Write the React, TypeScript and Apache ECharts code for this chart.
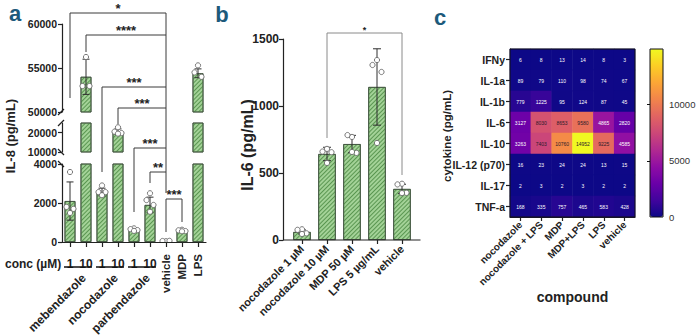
import React, { useEffect, useRef } from "react";
import * as echarts from "echarts";

const FONT = "'Liberation Sans', Arial, Helvetica, sans-serif";
const INK = "#222222";
const PANEL_COLOR = "#1d5a7b";

// ---------- Panel a : IL-8 ----------
const aCategories = [
  "mebendazole 1", "mebendazole 10", "nocodazole 1", "nocodazole 10",
  "parbendazole 1", "parbendazole 10", "vehicle", "MDP", "LPS",
];
const aConcLabels = ["1", "10", "1", "10", "1", "10", "", "", ""];
const aControlLabels = ["", "", "", "", "", "", "vehicle", "MDP", "LPS"];
const aGroups = ["mebendazole", "nocodazole", "parbendazole"];
const aMeans = [2100, 54000, 2560, 20500, 615, 1900, 50, 560, 54400];
const aSD = [980, 2000, 200, 1450, 60, 400, 10, 40, 500];
const aPoints = [
  [3590, 1800, 1700, 1490],
  [56250, 52950, 52950],
  [2900, 2560, 2560, 2400],
  [22800, 20500, 19800, 19500],
  [700, 660, 610, 570],
  [2500, 2150, 1900, 1550],
  [40, 50, 60],
  [630, 600, 560, 550],
  [55300, 54500, 54000],
];
const aSegments: [number, number][] = [[50000, 60000], [10000, 25000], [0, 4000]];
const aSegmentTicks = [[50000, 55000, 60000], [10000, 20000], [0, 2000, 4000]];
const aSigPairs = [[0, 6], [1, 6], [2, 6], [3, 6], [4, 6], [5, 6], [6, 7]];
const aSigLabels = ["*", "****", "***", "***", "***", "**", "***"];

// ---------- Panel b : IL-6 ----------
const bCategories = ["nocodazole 1 µM", "nocodazole 10 µM", "MDP 50 µM", "LPS 5 µg/mL", "vehicle"];
const bMeans = [60, 642, 716, 1142, 381];
const bSD = [15, 50, 65, 285, 35];
const bPoints = [
  [80, 76, 50, 45],
  [680, 660, 655, 575],
  [769, 783, 650, 657],
  [1343, 1306, 1254, 724],
  [420, 415, 352, 350],
];
const bSigPair = [1, 4];
const bSigLabel = "*";

// ---------- Panel c : heatmap ----------
const cCompounds = ["nocodazole", "nocodazole + LPS", "MDP", "MDP+LPS", "LPS", "vehicle"];
const cCytokines = ["IFNy", "IL-1a", "IL-1b", "IL-6", "IL-10", "IL-12 (p70)", "IL-17", "TNF-a"];
const cValues = [
  [6, 8, 13, 14, 8, 3],
  [89, 79, 110, 98, 74, 67],
  [779, 1225, 95, 124, 87, 45],
  [3127, 8030, 8653, 9580, 4865, 2820],
  [3263, 7403, 10760, 14952, 9225, 4585],
  [16, 23, 24, 24, 13, 15],
  [2, 3, 2, 3, 2, 2],
  [168, 335, 757, 465, 583, 428],
];
const cScaleMax = 14952;
const cColorbarTicks = [0, 5000, 10000];
const PLASMA = [
  "#0d0887", "#41049d", "#6a00a8", "#8f0da4", "#b12a90", "#cc4778",
  "#e16462", "#f2844b", "#fca636", "#fcce25", "#f0f921",
];

// ---------- layout ----------
const gridsA = [
  { left: 62, top: 24, width: 144, height: 88 },
  { left: 62, top: 123, width: 144, height: 29 },
  { left: 62, top: 164, width: 144, height: 78 },
];
const gridB = { left: 289.5, top: 39, width: 125, height: 201 };
const gridC = { left: 510, top: 49, width: 125, height: 168 };
const gridBar = { left: 650, top: 49, width: 13, height: 168 };

const BAR_FILL = "#a3d297";
const BAR_HATCH = "#5a9651";
const BAR_BORDER = "#3f523d";

const barItemStyle = {
  color: BAR_FILL,
  borderColor: BAR_BORDER,
  borderWidth: 0.8,
  decal: {
    symbol: "rect",
    symbolSize: 1,
    color: BAR_HATCH,
    dashArrayX: [1, 0],
    dashArrayY: [1, 2],
    rotation: -Math.PI / 4,
  },
};

const lineStyle = { color: INK, width: 1.2 };
const plain = (v: number) => String(v);

function errorRender(hw: number) {
  return (params: any, api: any) => {
    const x = api.value(0);
    const m = api.value(1);
    const s = api.value(2);
    const top = api.coord([x, m + s]);
    const bot = api.coord([x, m - s]);
    const st = { stroke: "#2e2e2e", lineWidth: 1 };
    return {
      type: "group",
      children: [
        { type: "line", shape: { x1: top[0], y1: top[1], x2: bot[0], y2: bot[1] }, style: st },
        { type: "line", shape: { x1: top[0] - hw, y1: top[1], x2: top[0] + hw, y2: top[1] }, style: st },
        { type: "line", shape: { x1: bot[0] - hw, y1: bot[1], x2: bot[0] + hw, y2: bot[1] }, style: st },
      ],
    };
  };
}

function pointRender(w: number) {
  const pattern = [0, -1, 1, 0, -1, 1];
  return (params: any, api: any) => {
    const c = api.coord([api.value(0), api.value(1)]);
    const dx = pattern[api.value(2) % 6] * w;
    return {
      type: "circle",
      shape: { cx: c[0] + dx, cy: c[1], r: 2.6 },
      style: { fill: "#ffffff", stroke: "#6a6a6a", lineWidth: 0.9 },
    };
  };
}

function buildOption(): any {
  const grid: any[] = [...gridsA, gridB, gridC, gridBar].map((g) => ({ ...g, outerBoundsMode: "none", containLabel: false }));
  const xAxis: any[] = [];
  const yAxis: any[] = [];
  const series: any[] = [];

  // panel a x axes
  xAxis.push({ gridIndex: 0, type: "category", data: aCategories, show: false });
  xAxis.push({ gridIndex: 1, type: "category", data: aCategories, show: false });
  xAxis.push({
    gridIndex: 2, type: "category", data: aCategories, position: "bottom",
    axisLine: { show: true, lineStyle },
    axisTick: { show: true, alignWithLabel: true, length: 5, lineStyle },
    axisLabel: {
      interval: 0, formatter: (_v: string, i: number) => aConcLabels[i],
      fontFamily: FONT, fontWeight: "bold", fontSize: 12, color: INK, margin: 16,
    },
  });
  xAxis.push({
    gridIndex: 2, type: "category", data: aCategories, position: "bottom",
    axisLine: { show: false }, axisTick: { show: false },
    axisLabel: {
      interval: 0, rotate: 90, formatter: (_v: string, i: number) => aControlLabels[i],
      fontFamily: FONT, fontWeight: "bold", fontSize: 11.5, color: INK, margin: 12,
    },
  });
  // panel b x axis
  xAxis.push({
    gridIndex: 3, type: "category", data: bCategories,
    axisLine: { show: false },
    axisTick: { show: true, alignWithLabel: true, length: 4, lineStyle },
    axisLabel: { interval: 0, rotate: 45, fontFamily: FONT, fontWeight: "bold", fontSize: 11, color: INK, margin: 7 },
  });
  // panel c x axis
  xAxis.push({
    gridIndex: 4, type: "category", data: cCompounds,
    axisLine: { show: true, lineStyle },
    axisTick: { show: true, alignWithLabel: true, length: 4, lineStyle },
    axisLabel: { interval: 0, rotate: 45, fontFamily: FONT, fontWeight: "bold", fontSize: 10, color: INK, margin: 6 },
    splitLine: { show: false }, splitArea: { show: false },
  });
  xAxis.push({ gridIndex: 5, type: "value", min: 0, max: 1, show: false });

  // panel a y axes (broken)
  aSegments.forEach(([lo, hi], g) => {
    yAxis.push({
      gridIndex: g, type: "value", min: lo, max: hi,
      axisLine: { show: true, lineStyle },
      axisTick: { show: true, length: 4, lineStyle, customValues: aSegmentTicks[g] },
      axisLabel: {
        customValues: aSegmentTicks[g], formatter: plain, fontFamily: FONT, fontWeight: "bold",
        fontSize: 10.5, color: INK, margin: 5,
      },
      splitLine: { show: false },
    });
  });
  // panel b
  yAxis.push({
    gridIndex: 3, type: "value", min: 0, max: 1500, interval: 500, offset: 6.5,
    axisLine: { show: true, lineStyle },
    axisTick: { show: true, length: 4, lineStyle },
    axisLabel: { formatter: plain, fontFamily: FONT, fontWeight: "bold", fontSize: 12, color: INK, margin: 4 },
    splitLine: { show: false },
  });
  // panel c
  yAxis.push({
    gridIndex: 4, type: "category", data: cCytokines, inverse: true,
    axisLine: { show: true, lineStyle },
    axisTick: { show: true, alignWithLabel: true, length: 4, lineStyle },
    axisLabel: { fontFamily: FONT, fontWeight: "bold", fontSize: 10.5, color: INK, margin: 5 },
    splitLine: { show: false }, splitArea: { show: false },
  });
  // colorbar axes
  yAxis.push({
    gridIndex: 5, type: "value", min: 0, max: cScaleMax, position: "right",
    axisLine: { show: false },
    axisTick: { show: true, inside: true, length: 3, lineStyle: { color: "#111", width: 1 }, customValues: [5000, 10000] },
    axisLabel: { customValues: cColorbarTicks, formatter: plain, fontFamily: FONT, fontSize: 9.5, color: "#333", margin: 6 },
    splitLine: { show: false },
  });
  yAxis.push({
    gridIndex: 5, type: "value", min: 0, max: cScaleMax, position: "left",
    axisLine: { show: false },
    axisTick: { show: true, inside: true, length: 3, lineStyle: { color: "#111", width: 1 }, customValues: [5000, 10000] },
    axisLabel: { show: false },
    splitLine: { show: false },
  });

  // panel a series per segment
  aSegments.forEach(([lo, hi], g) => {
    series.push({
      type: "bar", xAxisIndex: g, yAxisIndex: g, data: aMeans, barWidth: "68%",
      itemStyle: barItemStyle, silent: true, clip: true, z: 2,
    });
    series.push({
      type: "custom", xAxisIndex: g, yAxisIndex: g, silent: true, clip: true, z: 3,
      renderItem: errorRender(3.5), encode: { x: 0, y: 1 },
      data: aMeans.map((m, i) => [i, m, aSD[i]]).filter((d) => d[1] >= lo && d[1] <= hi),
    });
    series.push({
      type: "custom", xAxisIndex: g, yAxisIndex: g, silent: true, clip: true, z: 4,
      renderItem: pointRender(3.5), encode: { x: 0, y: 1 },
      data: aPoints.flatMap((arr, i) => arr.map((v, j) => [i, v, j])).filter((d) => d[1] >= lo && d[1] <= hi),
    });
  });

  // panel b series
  series.push({
    type: "bar", xAxisIndex: 4, yAxisIndex: 3, data: bMeans, barWidth: "70%",
    itemStyle: barItemStyle, silent: true, z: 2,
  });
  series.push({
    type: "custom", xAxisIndex: 4, yAxisIndex: 3, silent: true, z: 3,
    renderItem: errorRender(4), encode: { x: 0, y: 1 },
    data: bMeans.map((m, i) => [i, m, bSD[i]]),
  });
  series.push({
    type: "custom", xAxisIndex: 4, yAxisIndex: 3, silent: true, z: 4,
    renderItem: pointRender(4.5), encode: { x: 0, y: 1 },
    data: bPoints.flatMap((arr, i) => arr.map((v, j) => [i, v, j])),
  });

  // panel c heatmap
  const heatIndex = series.length;
  const heatData: any[] = [];
  cValues.forEach((row, r) =>
    row.forEach((v, c) => {
      heatData.push({ value: [c, r, v], label: { color: v > 6000 ? "#2a1a2a" : "#ffffff" } });
    })
  );
  series.push({
    type: "heatmap", xAxisIndex: 5, yAxisIndex: 4, data: heatData, silent: true,
    label: { show: true, fontSize: 5, fontFamily: FONT },
    emphasis: { disabled: true },
  });

  return {
    animation: false,
    backgroundColor: "#ffffff",
    textStyle: { fontFamily: FONT },
    grid, xAxis, yAxis, series,
    visualMap: {
      type: "continuous", min: 0, max: cScaleMax, seriesIndex: heatIndex, dimension: 2,
      inRange: { color: PLASMA }, calculable: false, orient: "vertical",
      left: gridBar.left, top: gridBar.top, itemWidth: gridBar.width, itemHeight: gridBar.height,
      padding: 0, text: null, showLabel: false, hoverLink: false,
    },
  };
}

function buildGraphic(chart: any): any[] {
  const els: any[] = [];
  const text = (t: string, x: number, y: number, font: string, o: any = {}) => ({
    type: "text", x, y, rotation: o.rot || 0, silent: true, z: 50,
    style: { text: t, fill: o.fill || INK, font, align: o.align || "center", verticalAlign: o.va || "middle" },
  });
  const line = (x1: number, y1: number, x2: number, y2: number, stroke = "#3a3a3a", lw = 1) => ({
    type: "line", silent: true, z: 50, shape: { x1, y1, x2, y2 }, style: { stroke, lineWidth: lw },
  });
  const bold = (s: number) => `bold ${s}px ${FONT}`;

  // panel letters
  els.push(text("a", 15, 13, bold(22), { fill: PANEL_COLOR }));
  els.push(text("b", 222, 14, bold(22), { fill: PANEL_COLOR }));
  els.push(text("c", 440, 17, bold(22), { fill: PANEL_COLOR }));

  // ---- panel a ----
  const ax = (i: number) => chart.convertToPixel({ xAxisIndex: 2, yAxisIndex: 2 }, [i, 0])[0];
  els.push(text("IL-8 (pg/mL)", 10, 136, bold(13), { rot: Math.PI / 2 }));
  els.push(text("conc (µM)", 5, 264, bold(12), { align: "left" }));

  // axis breaks
  const axisX = gridsA[0].left;
  const br = (y: number, dir: number) => line(axisX - 4, y + 3 * dir, axisX + 2, y - 3 * dir, INK, 1.2);
  els.push(br(gridsA[0].top + gridsA[0].height, 1));
  els.push(br(gridsA[1].top, 1));
  els.push(br(gridsA[1].top + gridsA[1].height, -1));
  els.push(br(gridsA[2].top, -1));

  // group underlines and rotated group names
  aGroups.forEach((name, k) => {
    const x1 = ax(2 * k) - 6;
    const x2 = ax(2 * k + 1) + 6;
    els.push(line(x1, 267, x2, 267, "#111", 1.5));
    els.push(text(name, (x1 + x2) / 2 + 6, 276, bold(12), { rot: Math.PI / 4, align: "right" }));
  });

  // significance brackets
  const sigY = [13, 35, 87, 108, 148, 172, 199];
  const sigLeftEnd = [98, 52, 172, 124, 212, 183, 232];
  const sigRightEnd = [35, 87, 108, 148, 172, 193, 222];
  aSigPairs.forEach(([l, r], k) => {
    const xl = ax(l);
    const xr = ax(r);
    els.push(line(xl, sigY[k], xr, sigY[k]));
    els.push(line(xl, sigY[k], xl, sigLeftEnd[k]));
    els.push(line(xr, sigY[k], xr, sigRightEnd[k]));
    els.push(text(aSigLabels[k], (xl + xr) / 2, sigY[k] - 5, bold(13)));
  });

  // ---- panel b ----
  const bx = (i: number) => chart.convertToPixel({ xAxisIndex: 4, yAxisIndex: 3 }, [i, 0]);
  const b0 = bx(0);
  els.push(line(gridB.left - 6.5, b0[1], gridB.left + gridB.width + 6, b0[1], INK, 1.2));
  els.push(text("IL-6 (pg/mL)", 247, 145, bold(16), { rot: Math.PI / 2 }));
  {
    const xl = bx(bSigPair[0])[0];
    const xr = bx(bSigPair[1])[0];
    els.push(line(xl, 33, xr, 33, "#8a8a8a"));
    els.push(line(xl, 33, xl, 138, "#8a8a8a"));
    els.push(line(xr, 33, xr, 175, "#8a8a8a"));
    els.push(text(bSigLabel, (xl + xr) / 2, 30, bold(9)));
  }

  // ---- panel c ----
  els.push(text("cytokine (pg/mL)", 447, 136, bold(11.5), { rot: Math.PI / 2 }));
  els.push(text("compound", gridC.left + gridC.width / 2, 297, bold(14)));
  els.push({
    type: "rect", silent: true, z: 50,
    shape: { x: gridC.left, y: gridC.top, width: gridC.width, height: gridC.height },
    style: { fill: "none", stroke: "#111", lineWidth: 1 },
  });
  els.push({
    type: "rect", silent: true, z: 50,
    shape: { x: gridBar.left, y: gridBar.top, width: gridBar.width, height: gridBar.height },
    style: { fill: "none", stroke: "#111", lineWidth: 1 },
  });
  return els;
}

export default function App() {
  const ref = useRef<HTMLDivElement>(null);
  useEffect(() => {
    const el = ref.current;
    if (!el) return;
    const chart = echarts.init(el, null, { renderer: "svg" });
    chart.setOption(buildOption());
    chart.setOption({ graphic: buildGraphic(chart) });
    return () => chart.dispose();
  }, []);
  return (
    <div
      ref={ref}
      style={{ position: "fixed", left: 0, top: 0, width: 696, height: 336, background: "#ffffff" }}
    />
  );
}
